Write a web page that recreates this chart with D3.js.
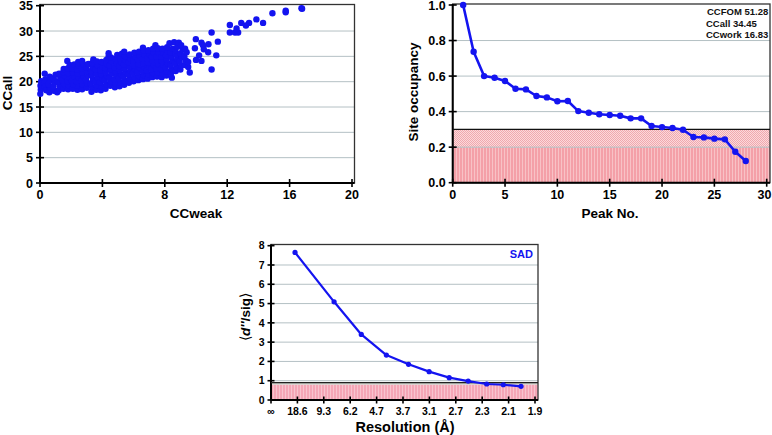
<!DOCTYPE html>
<html><head><meta charset="utf-8">
<script src="https://cdn.jsdelivr.net/npm/d3@7"></script>
<style>
body{margin:0;background:#fff}
svg{display:block;font-family:"Liberation Sans",Arial,Helvetica,sans-serif;font-weight:bold}
</style>
</head><body>
<svg id="c" width="772" height="435"></svg>
<script>
// ---------- DATA ----------
// Panel A: CCweak vs CCall
const ccBlob = [
[0.02,17.6],[0.05,18.4],[0.03,19.2],[0.08,20.1],[0.1,19.6],[0.15,18.9],
[0.3,21.6],[0.35,20.5],[0.28,19.8],[0.32,19.0],[0.4,18.3],
[0.6,17.9],[0.65,18.8],[0.55,19.5],[0.7,20.3],[0.62,21.0],
[0.9,18.2],[0.85,19.1],[0.95,19.9],[0.88,20.7],[1.0,21.4],
[1.2,18.3],[1.25,19.2],[1.15,20.0],[1.3,20.8],[1.22,21.6],[1.1,17.9],
[1.5,18.6],[1.55,19.5],[1.45,20.3],[1.6,21.1],[1.5,21.9],[1.52,22.5],
[1.8,18.5],[1.85,19.3],[1.75,20.1],[1.9,20.9],[1.82,21.7],[1.78,22.6],[1.75,24.1],[1.9,23.3],
[2.1,18.6],[2.15,19.4],[2.05,20.2],[2.2,21.0],[2.12,21.8],[2.08,22.6],[2.2,23.4],
[2.4,18.4],[2.45,19.2],[2.35,20.0],[2.5,20.8],[2.42,21.6],[2.38,22.4],[2.5,23.2],[2.45,23.9],
[2.7,18.5],[2.75,19.4],[2.65,20.2],[2.8,21.0],[2.72,21.8],[2.68,22.6],[2.8,23.4],[2.7,24.1],
[3.0,18.8],[3.05,19.6],[2.95,20.4],[3.1,21.2],[3.02,22.0],[2.98,22.8],[3.1,23.5],
[3.3,18.0],[3.35,18.9],[3.25,19.7],[3.4,20.5],[3.32,21.3],[3.28,22.1],[3.4,22.9],[3.35,23.7],[3.42,24.4],
[3.6,18.4],[3.65,19.2],[3.55,20.0],[3.7,20.8],[3.62,21.6],[3.58,22.4],[3.7,23.2],[3.65,24.0],
[3.9,18.3],[3.95,19.1],[3.85,19.9],[4.0,20.7],[3.92,21.5],[3.88,22.3],[4.0,23.1],[3.95,23.9],
[4.2,18.6],[4.25,19.5],[4.15,20.3],[4.3,21.1],[4.22,21.9],[4.18,22.7],[4.3,23.5],[4.25,24.3],[4.4,25.0],
[4.5,19.2],[4.55,20.0],[4.45,20.8],[4.6,21.6],[4.52,22.4],[4.48,23.2],[4.6,24.0],[4.55,24.8],[4.4,25.6],
[4.8,18.9],[4.85,19.7],[4.75,20.5],[4.9,21.3],[4.82,22.1],[4.78,22.9],[4.9,23.7],[4.85,24.5],[4.95,25.3],
[5.1,19.1],[5.15,19.9],[5.05,20.7],[5.2,21.5],[5.12,22.3],[5.08,23.1],[5.2,23.9],[5.15,24.7],[5.25,25.5],
[5.4,19.4],[5.45,20.2],[5.35,21.0],[5.5,21.8],[5.42,22.6],[5.38,23.4],[5.5,24.2],[5.45,25.0],[5.4,25.9],
[5.7,19.8],[5.75,20.6],[5.65,21.4],[5.8,22.2],[5.72,23.0],[5.68,23.8],[5.8,24.6],[5.75,25.4],
[6.0,20.1],[6.05,20.9],[5.95,21.7],[6.1,22.5],[6.02,23.3],[5.98,24.1],[6.1,24.9],[6.05,25.7],
[6.3,20.3],[6.35,21.1],[6.25,21.9],[6.4,22.7],[6.32,23.5],[6.28,24.3],[6.4,25.1],[6.35,25.9],[6.6,26.7],
[6.6,20.5],[6.65,21.3],[6.55,22.1],[6.7,22.9],[6.62,23.7],[6.58,24.5],[6.7,25.3],[6.65,26.1],
[6.9,20.6],[6.95,21.4],[6.85,22.2],[7.0,23.0],[6.92,23.8],[6.88,24.6],[7.0,25.4],[6.95,26.2],
[7.2,20.9],[7.25,21.7],[7.15,22.5],[7.3,23.3],[7.22,24.1],[7.18,24.9],[7.3,25.7],[7.25,26.5],[7.4,27.2],
[7.5,21.0],[7.55,21.8],[7.45,22.6],[7.6,23.4],[7.52,24.2],[7.48,25.0],[7.6,25.8],[7.55,26.6],
[7.8,20.9],[7.85,21.7],[7.75,22.5],[7.9,23.3],[7.82,24.1],[7.78,24.9],[7.9,25.7],[7.85,26.5],
[8.1,21.2],[8.15,22.0],[8.05,22.8],[8.2,23.6],[8.12,24.4],[8.08,25.2],[8.2,26.0],[8.15,26.8],[8.3,27.6],
[8.45,20.8],[8.4,21.7],[8.45,22.5],[8.35,23.3],[8.5,24.1],[8.42,24.9],[8.38,25.7],[8.5,26.5],[8.6,27.8],
[8.7,22.1],[8.75,22.9],[8.65,23.7],[8.8,24.5],[8.72,25.3],[8.68,26.1],[8.8,26.9],[8.9,27.7],
[9.0,22.4],[9.05,23.2],[8.95,24.0],[9.1,24.8],[9.02,25.6],[9.15,26.4],[9.05,27.2],
[9.3,23.3],[9.35,24.2],[9.25,25.0],[9.4,25.8],[9.3,26.5]
];
const ccOutliers = [
[16.76,34.5],[16.8,34.4],[15.75,34.0],[15.75,33.7],[14.9,33.5],[13.87,32.3],[14.3,31.6],
[13.4,31.6],[13.2,31.1],[12.9,31.6],[12.17,31.2],[12.17,29.7],[12.5,29.7],[12.7,29.7],[12.6,30.5],
[11.0,29.7],[9.99,28.4],[11.4,27.9],[10.35,27.7],[10.45,27.2],[10.8,27.4],[10.5,26.4],[10.78,25.8],
[11.3,25.2],[11.0,22.4],[9.6,21.8],[9.5,22.9],[10.0,24.3],[10.35,24.1],[10.2,25.2],[9.93,26.6],[9.5,23.9]
];
const ccXTicks = [0,4,8,12,16,20];
const ccYTicks = [0,5,10,15,20,25,30,35];

// Panel B: site occupancy per peak
const peakNo = [1,2,3,4,5,6,7,8,9,10,11,12,13,14,15,16,17,18,19,20,21,22,23,24,25,26,27,28];
const occupancy = [1.0,0.737,0.60,0.591,0.572,0.529,0.525,0.488,0.48,0.458,0.46,0.403,0.394,0.385,
  0.381,0.377,0.362,0.362,0.319,0.313,0.308,0.298,0.257,0.255,0.248,0.244,0.174,0.122];
const peakXTicks = [0,5,10,15,20,25,30];
const occYTicks = [0,0.2,0.4,0.6,0.8,1.0];
const ccStats = ["CCFOM 51.28","CCall 34.45","CCwork 16.83"];

// Panel C: <d''/sig> vs resolution (x in resolution-bin units)
const resTickLabels = ["\u221e","18.6","9.3","6.2","4.7","3.7","3.1","2.7","2.3","2.1","1.9"];
const resBinPos = [0.91,2.39,3.42,4.37,5.21,5.99,6.75,7.47,8.17,8.80,9.47];
const dSig = [7.65,5.09,3.40,2.33,1.85,1.47,1.16,0.98,0.83,0.79,0.71];
const dSigYTicks = [0,1,2,3,4,5,6,7,8];

// ---------- DRAW ----------
const svg = d3.select("#c");
const BLUE = "#1414f0";
const GRID = "#b4c0c4";

const defs = svg.append("defs");
const p1 = defs.append("pattern").attr("id","pinkStripe").attr("patternUnits","userSpaceOnUse").attr("width",3).attr("height",3);
p1.append("rect").attr("width",3).attr("height",3).attr("fill","#f4a0a8");
p1.append("rect").attr("width",1).attr("height",3).attr("fill","#f8c2c6");
const p2 = defs.append("pattern").attr("id","pinkDot").attr("patternUnits","userSpaceOnUse").attr("width",2).attr("height",2);
p2.append("rect").attr("width",2).attr("height",2).attr("fill","#fbd9db");
p2.append("rect").attr("width",1).attr("height",1).attr("fill","#f0a8ae");
p2.append("rect").attr("x",1).attr("y",1).attr("width",1).attr("height",1).attr("fill","#f0a8ae");
const p3 = defs.append("pattern").attr("id","pinkStripe2").attr("patternUnits","userSpaceOnUse").attr("width",3).attr("height",3);
p3.append("rect").attr("width",3).attr("height",3).attr("fill","#f4a6b6");
p3.append("rect").attr("width",1).attr("height",3).attr("fill","#f8c4cf");

function axesFrame(g, x, y, xTicks, yTicks, yFmt, right, top, fs, hGrid, tickLen) {
  g.selectAll(null).data(hGrid).join("line")
    .attr("x1", x.range()[0]).attr("x2", right)
    .attr("y1", d=>y(d)).attr("y2", d=>y(d))
    .attr("stroke", GRID).attr("stroke-width",1);
  const x0 = x.range()[0], y0 = y.range()[0];
  g.append("rect").attr("x",x0).attr("y",top).attr("width",right-x0).attr("height",y0-top)
    .attr("fill","none").attr("stroke","#333").attr("stroke-width",1.3);
  g.append("line").attr("x1",x0).attr("x2",x0).attr("y1",top).attr("y2",y0).attr("stroke","#000").attr("stroke-width",2);
  g.append("line").attr("x1",x0).attr("x2",right).attr("y1",y0).attr("y2",y0).attr("stroke","#000").attr("stroke-width",2);
  g.selectAll(null).data(yTicks).join("line")
    .attr("x1",x0-tickLen).attr("x2",x0+tickLen).attr("y1",d=>y(d)).attr("y2",d=>y(d))
    .attr("stroke","#000").attr("stroke-width",1.6);
  g.selectAll(null).data(yTicks).join("text")
    .attr("x",x0-tickLen-3).attr("y",d=>y(d)).attr("dy","0.36em").attr("text-anchor","end")
    .attr("font-size",fs).text(yFmt);
  g.selectAll(null).data(xTicks).join("line")
    .attr("x1",d=>x(d)).attr("x2",d=>x(d))
    .attr("y1",y0-tickLen).attr("y2",y0+tickLen)
    .attr("stroke","#000").attr("stroke-width",1.6);
}

// Panel A
{
  const g = svg.append("g");
  const x = d3.scaleLinear([0,20],[40,352]);
  const y = d3.scaleLinear([0,35],[183,5.7]);
  axesFrame(g,x,y,ccXTicks,ccYTicks,d=>d,354.5,4.5,12.5,[5,10,15,20,25,30],4);
  g.selectAll(null).data(ccXTicks).join("text")
    .attr("x",d=>x(d)).attr("y",199).attr("text-anchor","middle").attr("font-size",12.5).text(d=>d);
  g.append("text").attr("x",196).attr("y",218).attr("text-anchor","middle").attr("font-size",13.5).text("CCweak");
  g.append("text").attr("transform","translate(12,93) rotate(-90)").attr("text-anchor","middle").attr("font-size",13.5).text("CCall");
  g.selectAll(null).data(ccBlob.concat(ccOutliers)).join("circle")
    .attr("cx",d=>x(d[0])).attr("cy",d=>y(d[1])).attr("r",3.2).attr("fill",BLUE);
}

// Panel B
{
  const g = svg.append("g");
  const x = d3.scaleLinear([0,30],[452.7,766.7]);
  const y = d3.scaleLinear([0,1],[182.7,5]);
  const right = 770;
  g.append("rect").attr("x",x(0)).attr("y",y(0.2)).attr("width",right-x(0)).attr("height",y(0)-y(0.2)).attr("fill","url(#pinkStripe)");
  g.append("rect").attr("x",x(0)).attr("y",y(0.3)).attr("width",right-x(0)).attr("height",y(0.2)-y(0.3)).attr("fill","url(#pinkDot)");
  axesFrame(g,x,y,peakXTicks,occYTicks,d=>d3.format(".1f")(d),right,4,12.5,[0.2,0.4,0.6,0.8],4);
  g.append("line").attr("x1",x(0)).attr("x2",right).attr("y1",y(0.3)).attr("y2",y(0.3)).attr("stroke","#111").attr("stroke-width",1.3);
  g.selectAll(null).data(peakXTicks).join("text")
    .attr("x",d=>Math.min(x(d),764.5)).attr("y",199).attr("text-anchor","middle").attr("font-size",12.5).text(d=>d);
  g.append("text").attr("x",610).attr("y",218).attr("text-anchor","middle").attr("font-size",13.5).text("Peak No.");
  g.append("text").attr("transform","translate(418,92) rotate(-90)").attr("text-anchor","middle").attr("font-size",13.5).text("Site occupancy");
  const pts = peakNo.map((p,i)=>[p,occupancy[i]]);
  g.append("path").datum(pts).attr("d",d3.line().x(d=>x(d[0])).y(d=>y(d[1])))
    .attr("fill","none").attr("stroke",BLUE).attr("stroke-width",2.6).attr("stroke-linejoin","round");
  g.selectAll(null).data(pts).join("circle").attr("cx",d=>x(d[0])).attr("cy",d=>y(d[1])).attr("r",3.2).attr("fill",BLUE);
  g.selectAll(null).data(ccStats).join("text")
    .attr("x",(d,i)=>i===0?707:706).attr("y",(d,i)=>15.3+i*11.3).attr("font-size",9.5).attr("fill","#111").text(d=>d);
}

// Panel C
{
  const g = svg.append("g");
  const x = d3.scaleLinear([0,10],[271,535]);
  const y = d3.scaleLinear([0,8],[400,245.7]);
  const right = 538;
  g.append("rect").attr("x",x(0)).attr("y",y(0.8)).attr("width",right-x(0)).attr("height",y(0)-y(0.8)).attr("fill","url(#pinkStripe2)");
  g.append("rect").attr("x",x(0)).attr("y",y(0.9)).attr("width",right-x(0)).attr("height",y(0.8)-y(0.9)).attr("fill","#c9cbc4");
  axesFrame(g,x,y,d3.range(resTickLabels.length),dSigYTicks,d=>d,right,244.5,10.5,[1,2,3,4,5,6,7],3.5);
  g.append("line").attr("x1",x(0)).attr("x2",right).attr("y1",y(0.9)).attr("y2",y(0.9)).attr("stroke","#222").attr("stroke-width",1.1);
  g.selectAll(null).data(resTickLabels).join("text")
    .attr("x",(d,i)=>x(i)).attr("y",415.3).attr("text-anchor","middle").attr("font-size",10.5).text(d=>d);
  g.append("text").attr("x",405).attr("y",432).attr("text-anchor","middle").attr("font-size",14.5).text("Resolution (\u00c5)");
  const yl = g.append("text").attr("transform","translate(250,317) rotate(-90)").attr("text-anchor","middle").attr("font-size",13.5);
  yl.append("tspan").attr("font-weight","normal").text("\u27e8");
  yl.append("tspan").attr("font-style","italic").text("d''");
  yl.append("tspan").text("/sig");
  yl.append("tspan").attr("font-weight","normal").text("\u27e9");
  const pts = resBinPos.map((p,i)=>[p,dSig[i]]);
  g.append("path").datum(pts).attr("d",d3.line().x(d=>x(d[0])).y(d=>y(d[1])))
    .attr("fill","none").attr("stroke",BLUE).attr("stroke-width",2.2).attr("stroke-linejoin","round");
  g.selectAll(null).data(pts).join("circle").attr("cx",d=>x(d[0])).attr("cy",d=>y(d[1])).attr("r",2.6).attr("fill",BLUE);
  g.append("text").attr("x",533).attr("y",257.5).attr("text-anchor","end").attr("font-size",11).attr("fill",BLUE).text("SAD");
}
</script>
</body></html>
